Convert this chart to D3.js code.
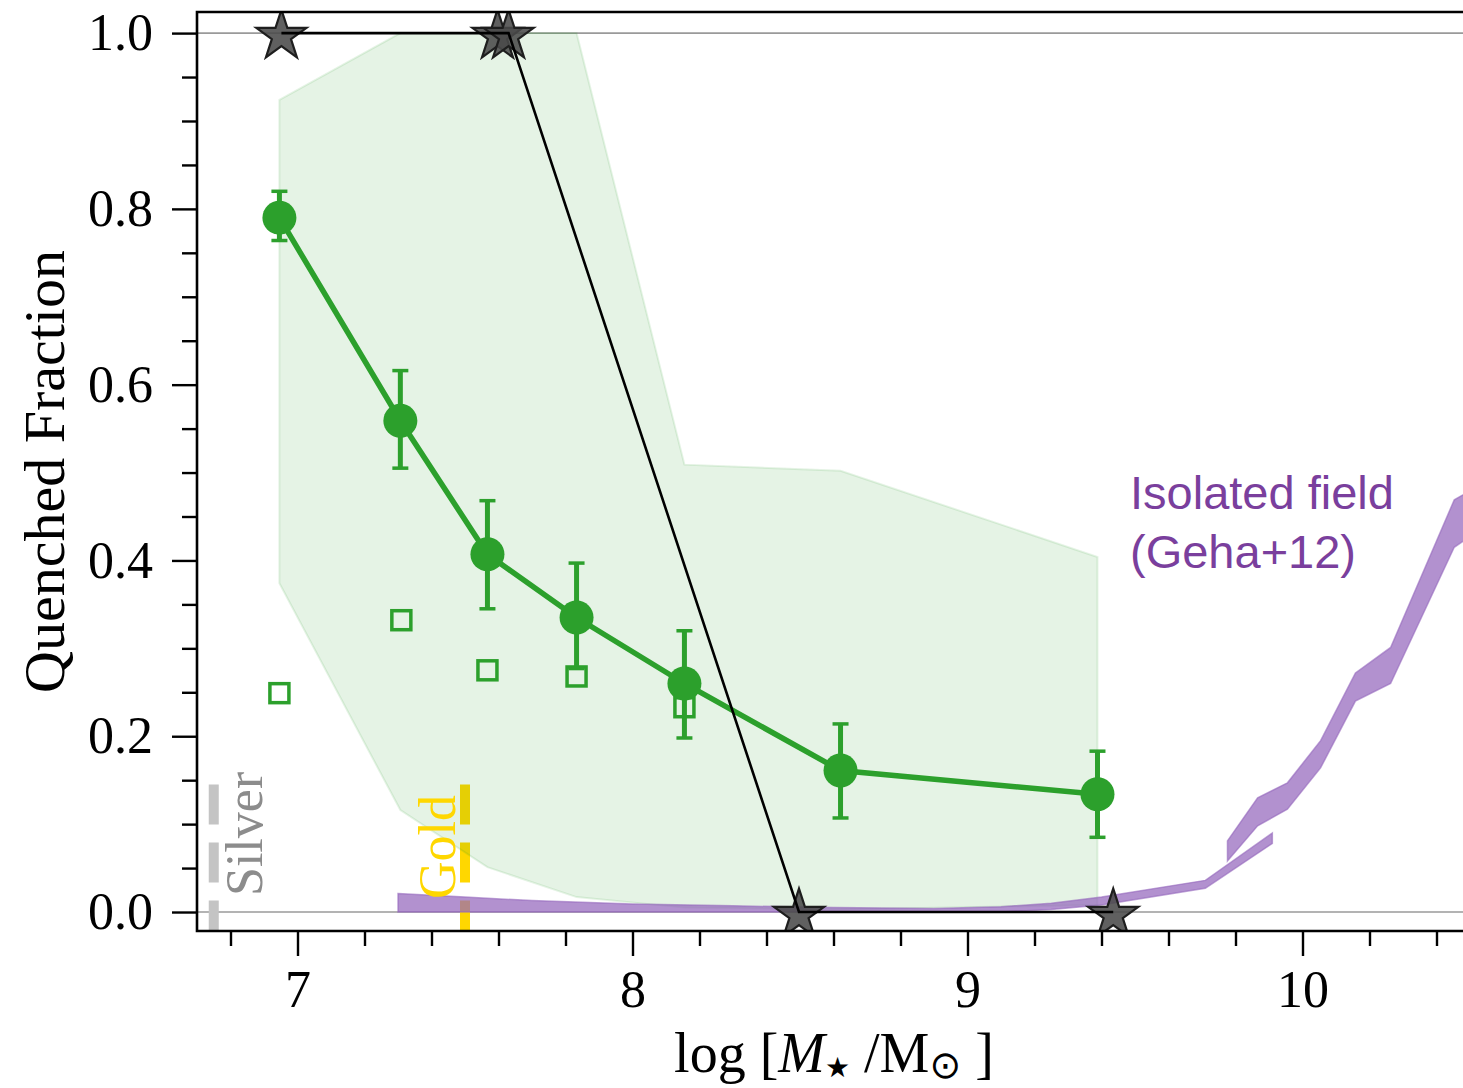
<!DOCTYPE html>
<html>
<head>
<meta charset="utf-8">
<script src="https://cdn.jsdelivr.net/npm/d3@7"></script>
<style>
  html, body { margin: 0; padding: 0; background: #fff; }
  svg { display: block; }
</style>
</head>
<body>
<svg id="chart" width="1463" height="1088"></svg>
<script>
// ---------------- data ----------------
const binMass     = [6.946, 7.307, 7.567, 7.833, 8.155, 8.621, 9.388];
const fracQ       = [0.790, 0.559, 0.407, 0.335, 0.260, 0.161, 0.134];
const fracQLow    = [0.764, 0.505, 0.345, 0.277, 0.198, 0.107, 0.085];
const fracQHigh   = [0.820, 0.616, 0.468, 0.397, 0.320, 0.214, 0.183];
const bandLow     = [0.374, 0.116, 0.051, 0.017, 0.005, 0.003, 0.008];
const bandHigh    = [0.924, 1.000, 1.000, 1.000, 0.509, 0.502, 0.404];

const sqMass      = [6.946, 7.310, 7.567, 7.833, 8.155];
const sqFrac      = [0.249, 0.332, 0.275, 0.268, 0.233];

const starMass    = [6.952, 7.597, 7.630, 8.497, 9.435];
const starFrac    = [1.0, 1.0, 1.0, 0.0, 0.0];

const gehaAMass   = [7.30, 7.50, 7.70, 8.00, 8.30, 8.60, 8.90, 9.10, 9.25, 9.40, 9.71, 9.91];
const gehaAHigh   = [0.021, 0.017, 0.013, 0.009, 0.007, 0.005, 0.004, 0.006, 0.010, 0.017, 0.036, 0.090];
const gehaALow    = [0.000, 0.000, 0.000, 0.000, 0.000, 0.000, 0.000, 0.000, 0.003, 0.008, 0.027, 0.078];

const gehaBMass   = [9.776, 9.866, 9.955, 10.054, 10.158, 10.263, 10.453, 10.55];
const gehaBHigh   = [0.081, 0.130, 0.147, 0.195, 0.272, 0.301, 0.469, 0.49];
const gehaBLow    = [0.058, 0.098, 0.117, 0.164, 0.240, 0.260, 0.415, 0.44];

const silverMass  = 6.75;
const goldMass    = 7.50;
const limitTop    = 0.145;

const xMajorTicks = [7, 8, 9, 10];
const xMinorTicks = [6.8, 7.2, 7.4, 7.6, 7.8, 8.2, 8.4, 8.6, 8.8, 9.2, 9.4, 9.6, 9.8, 10.2, 10.4];
const yMajorTicks = [0.0, 0.2, 0.4, 0.6, 0.8, 1.0];
const yMinorTicks = [0.05, 0.1, 0.15, 0.25, 0.3, 0.35, 0.45, 0.5, 0.55, 0.65, 0.7, 0.75, 0.85, 0.9, 0.95];

// ---------------- layout ----------------
const L = 197, R = 1470, T = 12, B = 931;
const x = d3.scaleLinear().domain([6.7, 10.5]).range([L, R]);
const y = d3.scaleLinear().domain([-0.0216, 1.024]).range([B, T]);

const svg = d3.select("#chart");
const serif = "'Liberation Serif', 'Times New Roman', 'DejaVu Serif', serif";
const sans = "'Liberation Sans', Arial, Helvetica, sans-serif";

svg.append("defs").append("clipPath").attr("id", "clip")
  .append("rect").attr("x", L).attr("y", T).attr("width", R - L).attr("height", B - T);

const plot = svg.append("g").attr("clip-path", "url(#clip)");

// reference lines at 0 and 1
[0, 1].forEach(v => {
  plot.append("line")
    .attr("x1", L).attr("x2", R).attr("y1", y(v)).attr("y2", y(v))
    .attr("stroke", "#9a9a9a").attr("stroke-width", 1.6);
});

// silver / gold completeness lines
function limitLine(m, col) {
  plot.append("line")
    .attr("x1", x(m)).attr("x2", x(m))
    .attr("y1", y(limitTop)).attr("y2", B + 20)
    .attr("stroke", col).attr("stroke-width", 10)
    .attr("stroke-dasharray", "40,18");
}
limitLine(silverMass, "#c4c4c4");
limitLine(goldMass, "#ffd700");

// green shaded band
const bandData = binMass.map((m, i) => ({ m, lo: bandLow[i], hi: bandHigh[i] }));
plot.append("path")
  .datum(bandData)
  .attr("d", d3.area().x(d => x(d.m)).y0(d => y(d.lo)).y1(d => y(d.hi)))
  .attr("fill", "#2ca02c").attr("fill-opacity", 0.12)
  .attr("stroke", "#2ca02c").attr("stroke-opacity", 0.12).attr("stroke-width", 2);

// Geha+12 bands
function gehaBand(ms, lo, hi) {
  const d = ms.map((m, i) => ({ m, lo: lo[i], hi: hi[i] }));
  plot.append("path")
    .datum(d)
    .attr("d", d3.area().x(p => x(p.m)).y0(p => y(p.lo)).y1(p => y(p.hi)))
    .attr("fill", "#9467bd").attr("fill-opacity", 0.72)
    .attr("stroke", "#9467bd").attr("stroke-opacity", 0.6).attr("stroke-width", 1.5);
}
gehaBand(gehaAMass, gehaALow, gehaAHigh);
gehaBand(gehaBMass, gehaBLow, gehaBHigh);

// open squares
plot.selectAll("rect.sq")
  .data(sqMass.map((m, i) => ({ m, f: sqFrac[i] })))
  .enter().append("rect")
  .attr("x", d => x(d.m) - 9.5).attr("y", d => y(d.f) - 9.5)
  .attr("width", 19).attr("height", 19)
  .attr("fill", "none").attr("stroke", "#2ca02c").attr("stroke-width", 3.5);

// green error bars
const pts = binMass.map((m, i) => ({ m, f: fracQ[i], lo: fracQLow[i], hi: fracQHigh[i] }));
const eb = plot.append("g").attr("stroke", "#2ca02c");
pts.forEach(d => {
  eb.append("line").attr("x1", x(d.m)).attr("x2", x(d.m))
    .attr("y1", y(d.lo)).attr("y2", y(d.hi)).attr("stroke-width", 5);
  [d.lo, d.hi].forEach(v => {
    eb.append("line").attr("x1", x(d.m) - 8).attr("x2", x(d.m) + 8)
      .attr("y1", y(v)).attr("y2", y(v)).attr("stroke-width", 3.5);
  });
});

// green line + circles
plot.append("path")
  .datum(pts)
  .attr("d", d3.line().x(d => x(d.m)).y(d => y(d.f)))
  .attr("fill", "none").attr("stroke", "#2ca02c").attr("stroke-width", 5.5);
plot.selectAll("circle.pt")
  .data(pts).enter().append("circle")
  .attr("cx", d => x(d.m)).attr("cy", d => y(d.f)).attr("r", 17)
  .attr("fill", "#2ca02c");

// stars
const stars = starMass.map((m, i) => ({ m, f: starFrac[i] }));
const starSym = d3.symbol().type(d3.symbolStar).size(780);
plot.selectAll("path.star")
  .data(stars).enter().append("path")
  .attr("d", starSym)
  .attr("transform", d => `translate(${x(d.m)},${y(d.f) + 3})`)
  .attr("fill", "#4a4a4a").attr("fill-opacity", 0.88)
  .attr("stroke", "#1e1e1e").attr("stroke-width", 2.2).attr("stroke-linejoin", "miter");
plot.append("path")
  .datum(stars)
  .attr("d", d3.line().x(d => x(d.m)).y(d => y(d.f)))
  .attr("fill", "none").attr("stroke", "#000").attr("stroke-width", 2.6);

// ---------------- axes ----------------
const axFont = 52;
svg.append("g").attr("transform", `translate(0,${B})`)
  .call(d3.axisBottom(x).tickValues(xMajorTicks).tickSize(25).tickPadding(14).tickFormat(d3.format("d")));
svg.append("g").attr("transform", `translate(0,${B})`)
  .call(d3.axisBottom(x).tickValues(xMinorTicks).tickSize(15).tickFormat(""));
svg.append("g").attr("transform", `translate(${L},0)`)
  .call(d3.axisLeft(y).tickValues(yMajorTicks).tickSize(25).tickPadding(19).tickFormat(d3.format(".1f")));
svg.append("g").attr("transform", `translate(${L},0)`)
  .call(d3.axisLeft(y).tickValues(yMinorTicks).tickSize(15).tickFormat(""));

svg.selectAll(".domain").remove();
svg.selectAll(".tick line").attr("stroke", "#000").attr("stroke-width", 2.4);
svg.selectAll(".tick text").attr("font-family", serif).attr("font-size", axFont).attr("fill", "#000");

// spines
svg.append("path")
  .attr("d", `M${R + 5},${T}H${L}V${B}H${R + 5}`)
  .attr("fill", "none").attr("stroke", "#000").attr("stroke-width", 2.6);

// axis titles
const xt = svg.append("text")
  .attr("x", 834).attr("y", 1072).attr("text-anchor", "middle")
  .attr("font-family", serif).attr("font-size", 56).attr("fill", "#000");
xt.append("tspan").text("log [");
xt.append("tspan").attr("font-style", "italic").text("M");
xt.append("tspan").attr("font-size", 28).attr("dy", 5).attr("font-family", "'DejaVu Sans', sans-serif").text("\u2605");
xt.append("tspan").attr("dy", -5).text(" /M");
xt.append("tspan").attr("font-size", 38).attr("dy", 6).attr("font-family", "'DejaVu Sans', sans-serif").text("\u2299");
xt.append("tspan").attr("dy", -6).text(" ]");

svg.append("text")
  .attr("transform", `translate(64,${(T + B) / 2}) rotate(-90)`)
  .attr("text-anchor", "middle")
  .attr("font-family", serif).attr("font-size", 58).attr("fill", "#000")
  .text("Quenched Fraction");

// Silver / Gold labels
svg.append("text")
  .attr("transform", `translate(262,896) rotate(-90)`)
  .attr("font-family", serif).attr("font-size", 52).attr("fill", "#8c8c8c")
  .text("Silver");
svg.append("text")
  .attr("transform", `translate(455,899) rotate(-90)`)
  .attr("font-family", serif).attr("font-size", 52).attr("fill", "#ffd700")
  .text("Gold");

// Geha label
const gl = svg.append("text")
  .attr("font-family", sans).attr("font-size", 47).attr("fill", "#7a3f9d");
gl.append("tspan").attr("x", 1130).attr("y", 509).text("Isolated field");
gl.append("tspan").attr("x", 1130).attr("y", 568).text("(Geha+12)");
</script>
</body>
</html>
